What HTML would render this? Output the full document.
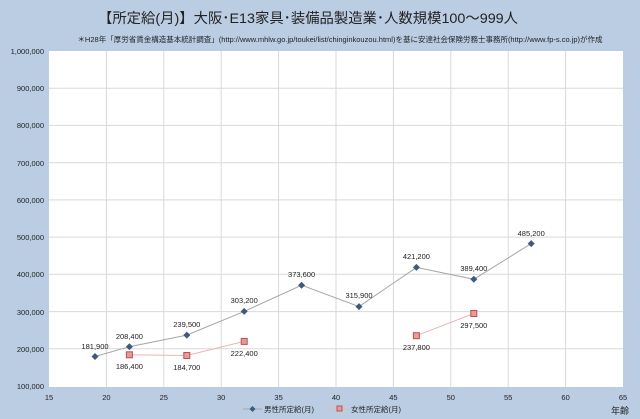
<!DOCTYPE html><html><head><meta charset="utf-8"><style>body{margin:0}svg{display:block}</style></head><body>
<svg width="640" height="419" xmlns="http://www.w3.org/2000/svg" font-family="'Liberation Sans','Noto Sans CJK JP',sans-serif">
<rect width="640" height="419" fill="#bacde3"/>
<rect x="49" y="51" width="574" height="336" fill="#fff"/>
<g stroke="#d9d9d9" stroke-width="1">
<line x1="49" x2="623" y1="88.2" y2="88.2"/><line x1="49" x2="623" y1="125.4" y2="125.4"/><line x1="49" x2="623" y1="162.7" y2="162.7"/><line x1="49" x2="623" y1="199.9" y2="199.9"/><line x1="49" x2="623" y1="237.1" y2="237.1"/><line x1="49" x2="623" y1="274.3" y2="274.3"/><line x1="49" x2="623" y1="311.6" y2="311.6"/><line x1="49" x2="623" y1="348.8" y2="348.8"/>
<line y1="51" y2="387" x1="106.4" x2="106.4"/><line y1="51" y2="387" x1="163.8" x2="163.8"/><line y1="51" y2="387" x1="221.2" x2="221.2"/><line y1="51" y2="387" x1="278.6" x2="278.6"/><line y1="51" y2="387" x1="336" x2="336"/><line y1="51" y2="387" x1="393.4" x2="393.4"/><line y1="51" y2="387" x1="450.8" x2="450.8"/><line y1="51" y2="387" x1="508.2" x2="508.2"/><line y1="51" y2="387" x1="565.6" x2="565.6"/>
</g>
<text x="308" y="23" font-size="14" text-anchor="middle" fill="#222" textLength="420" lengthAdjust="spacingAndGlyphs">【所定給(月)】大阪･E13家具･装備品製造業･人数規模100～999人</text>
<text x="340" y="42" font-size="7.5" text-anchor="middle" fill="#222">＊H28年「厚労省賃金構造基本統計調査」(http://www.mhlw.go.jp/toukei/list/chinginkouzou.html)を基に安達社会保険労務士事務所(http://www.fp-s.co.jp)が作成</text>
<g font-size="7.5" fill="#222" text-anchor="end">
<text x="44" y="54">1,000,000</text><text x="44" y="91">900,000</text><text x="44" y="128">800,000</text><text x="44" y="166">700,000</text><text x="44" y="203">600,000</text><text x="44" y="240">500,000</text><text x="44" y="277">400,000</text><text x="44" y="315">300,000</text><text x="44" y="352">200,000</text><text x="44" y="389">100,000</text>
</g>
<g font-size="7.5" fill="#222" text-anchor="middle">
<text x="49" y="400">15</text><text x="106.4" y="400">20</text><text x="163.8" y="400">25</text><text x="221.2" y="400">30</text><text x="278.6" y="400">35</text><text x="336" y="400">40</text><text x="393.4" y="400">45</text><text x="450.8" y="400">50</text><text x="508.2" y="400">55</text><text x="565.6" y="400">60</text><text x="623" y="400">65</text>
</g>
<text x="629" y="414" font-size="9" text-anchor="end" fill="#222">年齢</text>
<polyline fill="none" stroke="#a6a6a6" stroke-width="1" points="95,356.5 129.4,346.7 186.8,335.1 244.2,311.4 301.6,285.2 359,306.6 416.4,267.4 473.8,279.3 531.2,243.6"/>
<g fill="#3d5a80">
<path d="M95 353 l3.5 3.5 -3.5 3.5 -3.5 -3.5z"/><path d="M129.4 343.2 l3.5 3.5 -3.5 3.5 -3.5 -3.5z"/><path d="M186.8 331.6 l3.5 3.5 -3.5 3.5 -3.5 -3.5z"/><path d="M244.2 307.9 l3.5 3.5 -3.5 3.5 -3.5 -3.5z"/><path d="M301.6 281.7 l3.5 3.5 -3.5 3.5 -3.5 -3.5z"/><path d="M359 303.1 l3.5 3.5 -3.5 3.5 -3.5 -3.5z"/><path d="M416.4 263.9 l3.5 3.5 -3.5 3.5 -3.5 -3.5z"/><path d="M473.8 275.8 l3.5 3.5 -3.5 3.5 -3.5 -3.5z"/><path d="M531.2 240.1 l3.5 3.5 -3.5 3.5 -3.5 -3.5z"/>
</g>
<polyline fill="none" stroke="#f0b4b4" stroke-width="1" points="129.4,354.8 186.8,355.5 244.2,341.4"/>
<polyline fill="none" stroke="#f0b4b4" stroke-width="1" points="416.4,335.7 473.8,313.5"/>
<g fill="#e69a9a" stroke="#c0504d" stroke-width="1">
<rect x="126.4" y="351.8" width="6" height="6"/><rect x="183.8" y="352.5" width="6" height="6"/><rect x="241.2" y="338.4" width="6" height="6"/><rect x="413.4" y="332.7" width="6" height="6"/><rect x="470.8" y="310.5" width="6" height="6"/>
</g>
<g font-size="7.5" fill="#222" text-anchor="middle">
<text x="95" y="349">181,900</text><text x="129.4" y="339">208,400</text><text x="186.8" y="327">239,500</text><text x="244.2" y="303">303,200</text><text x="301.6" y="277">373,600</text><text x="359" y="298">315,900</text><text x="416.4" y="259">421,200</text><text x="473.8" y="271">389,400</text><text x="531.2" y="236">485,200</text>
<text x="129.4" y="369">186,400</text><text x="186.8" y="370">184,700</text><text x="244.2" y="356">222,400</text><text x="416.4" y="350">237,800</text><text x="473.8" y="328">297,500</text>
</g>
<line x1="243" x2="262" y1="409" y2="409" stroke="#a6a6a6"/><path d="M252.5 406 l3 3 -3 3 -3 -3z" fill="#3d5a80"/>
<text x="264" y="412" font-size="7.5" fill="#222">男性所定給(月)</text>
<line x1="330" x2="349" y1="409" y2="409" stroke="#f0b4b4"/><rect x="337" y="406" width="5" height="5" fill="#e69a9a" stroke="#c0504d"/>
<text x="351" y="412" font-size="7.5" fill="#222">女性所定給(月)</text>
</svg>
</body></html>
